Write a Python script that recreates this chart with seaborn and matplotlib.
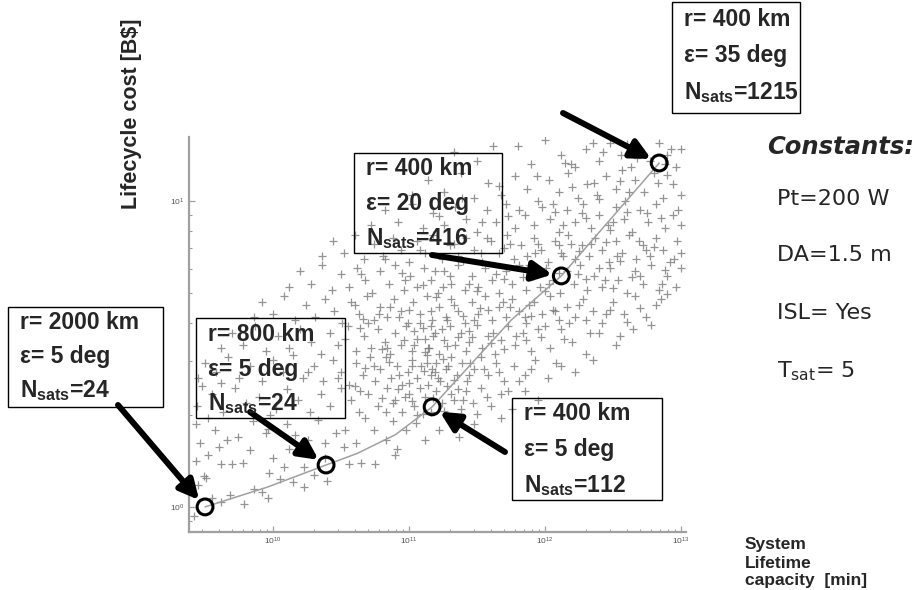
import numpy as np
import pandas as pd
import matplotlib
matplotlib.use("Agg")
import matplotlib.pyplot as plt
from matplotlib.patches import Rectangle
import seaborn as sns

# ---------------- data (log10 values) ----------------
# scatter cloud: (log10 capacity [min], log10 cost [B$])
cloud_points = [
    # ly -0.05 .. 0.1
    (9.42,-0.03),(9.62,0.015),(9.45,0.07),(9.55,0.03),(9.68,0.04),(9.79,0.01),(9.86,0.06),(9.92,0.05),
    (9.96,0.03),(10.05,0.09),(10.15,0.08),(10.23,0.065),(10.40,0.085),(9.51,0.095),
    # 0.1 .. 0.2
    (9.49,0.10),(9.62,0.14),(9.70,0.14),(9.78,0.145),(9.52,0.17),(9.97,0.11),(10.08,0.13),(10.23,0.13),
    (10.38,0.16),(10.56,0.14),(10.65,0.145),(10.75,0.14),(10.00,0.16),(9.83,0.185),(9.43,0.15),
    (10.12,0.19),(10.30,0.105),(10.90,0.17),(10.52,0.195),(9.60,0.195),
    # 0.2 .. 0.3
    (9.46,0.21),(9.57,0.25),(9.66,0.22),(9.74,0.23),(9.95,0.24),(10.21,0.20),(10.26,0.22),(10.38,0.21),
    (9.96,0.255),(9.98,0.30),(10.46,0.24),(10.53,0.25),(10.61,0.21),(10.74,0.25),(10.83,0.22),(10.91,0.19),
    (10.98,0.25),(11.37,0.23),(11.22,0.25),(11.68,0.29),(9.43,0.27),(9.85,0.28),(10.10,0.27),(10.33,0.285),
    (10.68,0.29),(10.88,0.28),(11.05,0.275),(11.12,0.22),(11.30,0.285),(11.48,0.27),(10.16,0.235),(9.52,0.29),
    # 0.3 .. 0.4
    (9.44,0.33),(9.55,0.37),(9.63,0.31),(9.72,0.39),(9.80,0.34),(9.90,0.36),(10.02,0.32),(10.10,0.385),
    (10.18,0.35),(10.27,0.31),(10.35,0.37),(10.42,0.33),(10.50,0.39),(10.57,0.35),(10.63,0.31),(10.70,0.37),
    (10.77,0.33),(10.84,0.39),(10.90,0.35),(10.95,0.31),(11.00,0.37),(11.04,0.33),(11.08,0.39),(11.12,0.36),
    (11.16,0.31),(11.20,0.38),(11.24,0.34),(11.28,0.395),(11.33,0.35),(11.38,0.32),(11.42,0.38),(11.47,0.34),
    (11.53,0.39),(11.60,0.33),(11.68,0.37),(11.76,0.32),(11.85,0.38),(11.95,0.35),(11.02,0.345),(11.18,0.355),
    (10.92,0.385),(11.10,0.305),(11.26,0.315),(11.36,0.385),(9.48,0.395),(10.60,0.395),(10.80,0.355),(11.50,0.305),
    # 0.4 .. 0.5
    (9.45,0.42),(9.50,0.47),(9.58,0.44),(9.67,0.49),(9.75,0.42),(9.83,0.46),(9.92,0.41),(10.00,0.48),
    (10.07,0.44),(10.15,0.495),(10.22,0.42),(10.30,0.46),(10.37,0.41),(10.44,0.48),(10.50,0.44),(10.56,0.40),
    (10.61,0.47),(10.66,0.43),(10.71,0.49),(10.75,0.41),(10.79,0.45),(10.83,0.49),(10.87,0.42),(10.91,0.46),
    (10.95,0.40),(10.99,0.44),(11.02,0.48),(11.06,0.42),(11.09,0.46),(11.13,0.495),(11.16,0.43),(11.20,0.47),
    (11.23,0.41),(11.27,0.45),(11.31,0.49),(11.35,0.43),(11.39,0.47),(11.43,0.41),(11.48,0.45),(11.53,0.49),
    (11.58,0.43),(11.64,0.47),(11.70,0.41),(11.77,0.46),(11.85,0.43),(11.93,0.48),(12.02,0.42),(12.12,0.46),
    (12.22,0.44),(12.35,0.48),(10.93,0.43),(11.11,0.445),(11.25,0.485),(11.00,0.405),(10.68,0.455),(11.45,0.47),
    (10.85,0.475),(11.33,0.415),(9.62,0.405),(10.26,0.44),
    (11.14,0.40),(11.17,0.45),(11.15,0.52),(11.19,0.57),(11.13,0.47),(11.21,0.42),(11.16,0.59),(11.12,0.55),
    # 0.5 .. 0.6
    (9.62,0.52),(9.70,0.57),(9.78,0.53),(9.87,0.59),(9.95,0.51),(10.04,0.56),(10.12,0.52),(10.20,0.58),
    (10.28,0.54),(10.35,0.50),(10.42,0.57),(10.48,0.53),(10.55,0.59),(10.61,0.51),(10.67,0.56),(10.72,0.52),
    (10.77,0.58),(10.82,0.54),(10.86,0.50),(10.90,0.57),(10.94,0.53),(10.98,0.59),(11.02,0.51),(11.06,0.55),
    (11.10,0.585),(11.14,0.52),(11.18,0.56),(11.22,0.50),(11.26,0.545),(11.30,0.59),(11.34,0.53),(11.38,0.57),
    (11.42,0.51),(11.46,0.555),(11.50,0.595),(11.54,0.52),(11.58,0.56),(11.63,0.50),(11.68,0.545),(11.73,0.59),
    (11.78,0.53),(11.84,0.57),(11.90,0.51),(11.97,0.555),(12.04,0.52),(12.12,0.58),(12.20,0.54),(12.30,0.50),
    (12.40,0.57),(12.52,0.53),(12.65,0.58),(12.78,0.595),(10.96,0.545),(11.12,0.505),(11.28,0.525),(11.44,0.575),
    (11.60,0.535),(10.80,0.515),(11.70,0.515),(11.86,0.545),(10.64,0.585),(12.00,0.59),(11.36,0.555),(11.04,0.575),
    # 0.6 .. 0.7
    (9.86,0.62),(9.92,0.67),(10.00,0.63),(10.08,0.69),(10.16,0.61),(10.24,0.66),(10.31,0.62),(10.38,0.68),
    (10.45,0.64),(10.51,0.60),(10.57,0.67),(10.63,0.63),(10.69,0.69),(10.74,0.61),(10.79,0.655),(10.84,0.62),
    (10.89,0.68),(10.94,0.64),(10.99,0.60),(11.03,0.67),(11.08,0.63),(11.13,0.69),(11.17,0.61),(11.22,0.655),
    (11.27,0.62),(11.31,0.68),(11.36,0.64),(11.41,0.60),(11.46,0.67),(11.51,0.63),(11.56,0.69),(11.61,0.61),
    (11.66,0.655),(11.71,0.62),(11.76,0.68),(11.81,0.64),(11.86,0.60),(11.92,0.67),(11.98,0.63),(12.04,0.69),
    (12.10,0.61),(12.16,0.655),(12.22,0.62),(12.28,0.68),(12.35,0.64),(12.42,0.60),(12.50,0.67),(12.58,0.63),
    (12.66,0.69),(12.74,0.62),(12.82,0.66),(12.90,0.695),(11.00,0.645),(11.20,0.685),(11.40,0.625),(11.58,0.645),
    (11.74,0.655),(11.90,0.625),(12.06,0.645),(12.30,0.61),(12.48,0.645),(10.86,0.655),(10.66,0.615),(12.60,0.605),
    # 0.7 .. 0.8
    (10.12,0.72),(10.20,0.77),(10.28,0.73),(10.36,0.79),(10.43,0.71),(10.50,0.76),(10.56,0.72),(10.62,0.78),
    (10.68,0.74),(10.73,0.70),(10.79,0.77),(10.85,0.73),(10.90,0.79),(10.96,0.71),(11.01,0.755),(11.06,0.72),
    (11.11,0.78),(11.16,0.74),(11.21,0.70),(11.26,0.77),(11.31,0.73),(11.36,0.79),(11.41,0.71),(11.46,0.755),
    (11.51,0.72),(11.56,0.78),(11.61,0.74),(11.66,0.70),(11.71,0.77),(11.76,0.73),(11.81,0.79),(11.86,0.71),
    (11.91,0.755),(11.96,0.72),(12.01,0.78),(12.06,0.74),(12.11,0.70),(12.16,0.77),(12.21,0.73),(12.26,0.79),
    (12.31,0.71),(12.36,0.755),(12.42,0.72),(12.48,0.78),(12.54,0.74),(12.60,0.70),(12.66,0.77),(12.72,0.73),
    (12.78,0.79),(12.84,0.71),(12.90,0.755),(12.96,0.72),(13.00,0.78),(11.30,0.755),(11.50,0.705),(11.70,0.745),
    (11.90,0.785),(12.10,0.765),(12.30,0.745),(12.50,0.715),(12.70,0.755),(12.88,0.775),(11.10,0.725),(10.95,0.765),
    (12.00,0.705),
    # 0.8 .. 0.9
    (10.36,0.82),(10.44,0.87),(10.52,0.83),(10.60,0.89),(10.67,0.81),(10.74,0.86),(10.81,0.82),(10.88,0.88),
    (10.94,0.84),(11.00,0.80),(11.06,0.87),(11.12,0.83),(11.18,0.89),(11.24,0.81),(11.30,0.855),(11.36,0.82),
    (11.42,0.88),(11.48,0.84),(11.54,0.80),(11.60,0.87),(11.66,0.83),(11.72,0.89),(11.77,0.81),(11.82,0.855),
    (11.87,0.82),(11.92,0.88),(11.97,0.84),(12.02,0.80),(12.07,0.87),(12.12,0.83),(12.17,0.89),(12.22,0.81),
    (12.27,0.855),(12.32,0.82),(12.37,0.88),(12.42,0.84),(12.47,0.80),(12.52,0.87),(12.57,0.83),(12.62,0.89),
    (12.67,0.81),(12.72,0.855),(12.77,0.82),(12.82,0.88),(12.87,0.84),(12.92,0.80),(12.97,0.87),(13.00,0.83),
    (11.95,0.86),(12.25,0.835),(12.55,0.805),(12.80,0.85),(12.45,0.865),(12.10,0.855),(11.70,0.845),(11.40,0.805),
    # 0.9 .. 1.0
    (10.72,0.92),(10.82,0.97),(10.92,0.93),(11.02,0.99),(11.10,0.91),(11.18,0.96),(11.26,0.92),(11.34,0.98),
    (11.42,0.94),(11.50,0.90),(11.57,0.97),(11.64,0.93),(11.71,0.99),(11.78,0.91),(11.85,0.955),(11.92,0.92),
    (11.98,0.98),(12.04,0.94),(12.10,0.90),(12.16,0.97),(12.22,0.93),(12.28,0.99),(12.34,0.91),(12.40,0.955),
    (12.46,0.92),(12.52,0.98),(12.58,0.94),(12.64,0.90),(12.70,0.97),(12.76,0.93),(12.82,0.99),(12.88,0.91),
    (12.94,0.955),(13.00,0.92),(12.60,0.965),(12.30,0.945),(12.85,0.945),(12.07,0.965),(12.48,0.905),
    # 1.0 .. 1.1
    (11.02,1.02),(11.14,1.07),(11.26,1.03),(11.38,1.09),(11.48,1.01),(11.58,1.06),(11.68,1.02),(11.78,1.08),
    (11.87,1.04),(11.95,1.00),(12.03,1.07),(12.10,1.03),(12.17,1.09),(12.24,1.01),(12.31,1.055),(12.38,1.02),
    (12.45,1.08),(12.52,1.04),(12.59,1.00),(12.66,1.07),(12.73,1.03),(12.80,1.09),(12.87,1.01),(12.94,1.055),
    (13.00,1.02),(12.55,1.065),(12.20,1.045),(12.90,1.085),(12.40,1.005),
    # 1.1 .. 1.2
    (11.33,1.16),(11.50,1.13),(11.62,1.18),(11.80,1.18),(11.90,1.12),(12.00,1.20),(12.12,1.15),(12.22,1.11),
    (12.30,1.17),(12.40,1.13),(12.48,1.19),(12.56,1.15),(12.63,1.11),(12.70,1.17),(12.77,1.13),(12.84,1.19),
    (12.90,1.15),(12.96,1.11),(13.00,1.17),(12.35,1.19),(12.60,1.185),(12.15,1.125),
]
# additional points in the dense core of the cloud
cloud_core_points = [
    (10.83,0.31),(10.97,0.36),(11.06,0.30),(11.19,0.44),(11.31,0.37),(11.44,0.43),(11.57,0.36),(11.66,0.44),
    (11.81,0.41),(11.02,0.46),(10.74,0.46),(10.88,0.34),(11.40,0.35),(11.29,0.46),(11.55,0.45),(11.73,0.38),
    (11.90,0.45),(12.08,0.47),(10.64,0.38),(10.48,0.42),
    (10.53,0.55),(10.70,0.60),(10.84,0.52),(10.93,0.62),(11.04,0.53),(11.16,0.64),(11.24,0.58),(11.33,0.66),
    (11.44,0.54),(11.52,0.65),(11.62,0.57),(11.69,0.67),(11.79,0.56),(11.88,0.66),(11.95,0.58),(12.07,0.64),
    (12.14,0.55),(12.25,0.66),(12.33,0.57),(12.45,0.63),(12.55,0.56),(12.70,0.65),(12.85,0.68),(10.60,0.66),
    (11.08,0.60),(11.48,0.61),(11.85,0.62),(12.18,0.60),(10.78,0.63),(11.28,0.61),
    (10.65,0.76),(10.82,0.81),(10.97,0.74),(11.08,0.84),(11.19,0.77),(11.33,0.86),(11.44,0.73),(11.53,0.83),
    (11.64,0.76),(11.74,0.86),(11.84,0.75),(11.93,0.83),(12.03,0.73),(12.13,0.82),(12.24,0.76),(12.34,0.86),
    (12.44,0.74),(12.53,0.82),(12.64,0.75),(12.74,0.84),(12.86,0.73),(12.95,0.81),(11.25,0.72),(11.57,0.88),
    (12.19,0.86),(12.69,0.87),(12.40,0.78),(11.88,0.79),
    (11.22,0.95),(11.39,1.01),(11.54,0.93),(11.66,1.05),(11.81,0.97),(11.94,1.08),(12.06,0.99),(12.19,1.12),
    (12.27,0.96),(12.36,1.06),(12.43,1.16),(12.50,0.93),(12.62,1.03),(12.68,1.14),(12.75,0.96),(12.83,1.06),
    (12.93,1.17),(12.98,0.97),(12.13,0.92),(12.57,1.10),(12.88,1.12),(11.73,0.95),
]

# Pareto front (log10 capacity, log10 cost)
front_log_capacity = [9.50, 9.96, 10.39, 10.62, 10.90, 11.17, 11.75, 12.12, 12.84]
front_log_cost     = [0.00, 0.065, 0.137, 0.175, 0.236, 0.327, 0.61, 0.755, 1.124]

# highlighted designs (circled)
design_log_capacity = [9.50, 10.39, 11.17, 12.12, 12.84]
design_log_cost     = [0.00, 0.137, 0.327, 0.755, 1.124]
design_labels = [
    ["r= 2000 km", "ε= 5 deg", r"N$_{\mathbf{sats}}$=24"],
    ["r= 800 km", "ε= 5 deg", r"N$_{\mathbf{sats}}$=24"],
    ["r= 400 km", "ε= 5 deg", r"N$_{\mathbf{sats}}$=112"],
    ["r= 400 km", "ε= 20 deg", r"N$_{\mathbf{sats}}$=416"],
    ["r= 400 km", "ε= 35 deg", r"N$_{\mathbf{sats}}$=1215"],
]
constants_title = "Constants:"
constants_lines = ["Pt=200 W", "DA=1.5 m", "ISL= Yes", r"T$_{\mathrm{sat}}$= 5"]
y_label = "Lifecycle cost [B$]"
x_label_lines = ["System", "Lifetime", "capacity  [min]"]

# ---------------- layout (pixel positions in a 922x590 figure) ----------------
W, H = 922, 590
box_rects = [(8, 307, 163, 407), (196, 318, 345, 418), (512, 398, 662, 500),
             (354, 153, 502, 253), (672, 2, 800, 113)]
box_line_y = [(322, 356, 390), (334, 369, 403), (413, 449, 485),
              (168, 203, 238), (19, 55, 92)]
arrow_tails = [(118, 405), (250, 412), (505, 452), (432, 255), (563, 113)]

def fx(px):
    return px / W

def fy(py):
    return 1 - py / H

sns.set_theme(style="white")
plt.rcParams["font.family"] = ["Liberation Sans", "DejaVu Sans"]
plt.rcParams["mathtext.fontset"] = "custom"
plt.rcParams["mathtext.rm"] = "DejaVu Sans"
plt.rcParams["mathtext.bf"] = "Liberation Sans:bold"

fig = plt.figure(figsize=(W / 100, H / 100), dpi=100)
ax = fig.add_axes([fx(189), fy(532), (686 - 189) / W, (532 - 137) / H])
ax.set_xscale("log")
ax.set_yscale("log")

cloud = pd.DataFrame(cloud_points + cloud_core_points, columns=["lcap", "lcost"])
cloud["capacity"] = 10 ** cloud["lcap"]
cloud["cost"] = 10 ** cloud["lcost"]
sns.scatterplot(data=cloud, x="capacity", y="cost", marker="+", color="#7a7a7a",
                s=36, linewidth=0.9, alpha=0.8, ax=ax, zorder=2)

front = pd.DataFrame({"capacity": 10 ** np.array(front_log_capacity),
                      "cost": 10 ** np.array(front_log_cost)})
sns.lineplot(data=front, x="capacity", y="cost", sort=False, color="#a0a0a0",
             linewidth=1.1, ax=ax, zorder=3)

designs = pd.DataFrame({"capacity": 10 ** np.array(design_log_capacity),
                        "cost": 10 ** np.array(design_log_cost)})
sns.scatterplot(data=designs, x="capacity", y="cost", marker="o", s=130,
                facecolor="none", edgecolor="black", linewidth=2.2, ax=ax, zorder=5)

ax.set_xlim(10 ** 9.382, 10 ** 13.037)
ax.set_ylim(10 ** -0.082, 10 ** 1.209)
ax.set_xlabel("")
ax.set_ylabel("")
for s in ["top", "right"]:
    ax.spines[s].set_visible(False)
for s in ["left", "bottom"]:
    ax.spines[s].set_color("#a0a0a0")
    ax.spines[s].set_linewidth(1.6)
ax.tick_params(which="both", direction="in", colors="#a0a0a0", labelcolor="#555555",
               labelsize=6, pad=3)
ax.tick_params(which="major", length=4, width=0.9)
ax.tick_params(which="minor", length=2.5, width=0.8)
ax.tick_params(which="both", bottom=True, left=True)

# annotations: boxes, text and arrows
for rect, ys, lines, tail, lc, lv in zip(box_rects, box_line_y, design_labels,
                                         arrow_tails, design_log_capacity, design_log_cost):
    x0, y0, x1, y1 = rect
    fig.patches.append(Rectangle((fx(x0), fy(y1)), (x1 - x0) / W, (y1 - y0) / H,
                                 transform=fig.transFigure, fill=False,
                                 edgecolor="black", linewidth=1.0, zorder=6))
    for yy, t in zip(ys, lines):
        fig.text(fx(x0 + 12), fy(yy + 7), t, fontsize=16.5, fontweight="bold",
                 family="Liberation Sans", va="baseline", ha="left", zorder=7)
    ax.annotate("", xy=(10 ** lc, 10 ** lv), xycoords="data",
                xytext=(fx(tail[0]), fy(tail[1])), textcoords="figure fraction",
                arrowprops=dict(arrowstyle="-|>", color="black", lw=4.3,
                                mutation_scale=29, shrinkA=0, shrinkB=6.5),
                annotation_clip=False, zorder=8)

# axis labels
fig.text(fx(131), fy(114), y_label, rotation=90, fontsize=15.5, fontweight="bold",
         family="Liberation Sans", ha="center", va="center")
for yy, t in zip([545, 563, 581], x_label_lines):
    fig.text(fx(745), fy(yy), t, fontsize=12.5, fontweight="bold",
             family="Liberation Sans", ha="left", va="center")

# constants
fig.text(fx(767), fy(147), constants_title, fontsize=17.5, fontweight="bold",
         style="italic", family="DejaVu Sans", ha="left", va="center")
for yy, t in zip([197, 253, 311, 369], constants_lines):
    fig.text(fx(777), fy(yy + 8), t, fontsize=16, family="DejaVu Sans",
             ha="left", va="baseline")

fig.savefig("out.png", dpi=100)
